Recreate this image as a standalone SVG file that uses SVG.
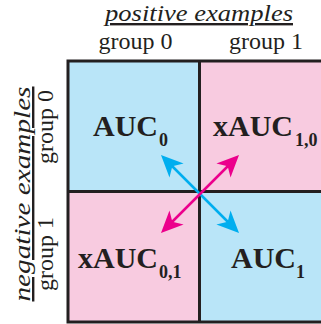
<svg xmlns="http://www.w3.org/2000/svg" width="321" height="324" viewBox="0 0 321 324">
<style>
.lbl{font-family:"Liberation Serif","Times New Roman",serif;fill:#231f20}
.it{font-style:italic;font-size:24px;text-decoration:underline}
.grp{font-size:24px}
.auc{font-weight:bold;font-size:30px}
.sub{font-size:18px}
.blue{fill:#b9e5f8}
.pink{fill:#f8cbe0}
.grid{fill:none;stroke:#231f20;stroke-width:3}
</style>
<defs>
<marker id="hb" markerUnits="userSpaceOnUse" viewBox="0 -11 22 22" markerWidth="22" markerHeight="22" refX="13.5" refY="0" orient="auto-start-reverse">
<path d="M22,0 L0,-10 L6,0 L0,10 Z" fill="#00aeef"/>
</marker>
<marker id="hm" markerUnits="userSpaceOnUse" viewBox="0 -11 22 22" markerWidth="22" markerHeight="22" refX="13.5" refY="0" orient="auto-start-reverse">
<path d="M22,0 L0,-10 L6,0 L0,10 Z" fill="#ec008c"/>
</marker>
</defs>
<g id="cell00"><rect class="blue" x="68" y="61" width="131.5" height="130.5"/></g>
<g id="cell01"><rect class="pink" x="199.5" y="61" width="131.5" height="130.5"/></g>
<g id="cell10"><rect class="pink" x="68" y="191.5" width="131.5" height="130.5"/></g>
<g id="cell11"><rect class="blue" x="199.5" y="191.5" width="131.5" height="130.5"/></g>
<g id="grid">
<rect class="grid" x="68" y="61" width="263" height="261"/>
<line class="grid" x1="199.5" y1="61" x2="199.5" y2="322"/>
<line class="grid" x1="68" y1="191.5" x2="331" y2="191.5"/>
</g>
<g id="connectors">
<line x1="167" y1="161" x2="233" y2="227" stroke="#00aeef" stroke-width="2.5" marker-start="url(#hb)" marker-end="url(#hb)"/>
<line x1="233" y1="161" x2="167" y2="227" stroke="#ec008c" stroke-width="2.5" marker-start="url(#hm)" marker-end="url(#hm)"/>
</g>
<g id="labels">
<text class="lbl it" x="199" y="21" text-anchor="middle" textLength="188" lengthAdjust="spacingAndGlyphs">positive examples</text>
<text class="lbl grp" x="135.5" y="49" text-anchor="middle">group 0</text>
<text class="lbl grp" x="266" y="49" text-anchor="middle">group 1</text>
<text class="lbl it" transform="translate(30,194) rotate(-90)" text-anchor="middle" textLength="215" lengthAdjust="spacingAndGlyphs">negative examples</text>
<text class="lbl grp" transform="translate(53,127) rotate(-90)" text-anchor="middle">group 0</text>
<text class="lbl grp" transform="translate(53,254) rotate(-90)" text-anchor="middle">group 1</text>
</g>
<g id="auc0"><text class="lbl auc" x="93" y="136">AUC<tspan class="sub" dx="1" dy="10">0</tspan></text></g>
<g id="xauc10"><text class="lbl auc" x="213" y="136">xAUC<tspan class="sub" dx="2" dy="10">1,0</tspan></text></g>
<g id="xauc01"><text class="lbl auc" x="78" y="268">xAUC<tspan class="sub" dx="1" dy="10">0,1</tspan></text></g>
<g id="auc1"><text class="lbl auc" x="231" y="268">AUC<tspan class="sub" dx="0" dy="10">1</tspan></text></g>
</svg>
